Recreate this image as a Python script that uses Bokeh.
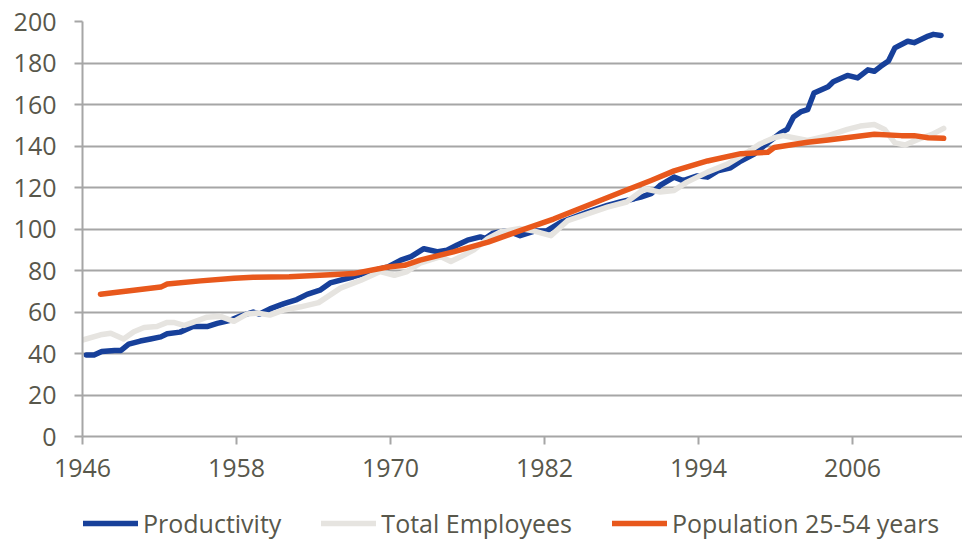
from bokeh.plotting import figure
from bokeh.layouts import column
from bokeh.models import Legend, LegendItem, FixedTicker, Range1d
from bokeh.embed import file_html
from bokeh.resources import INLINE

prod_years = [1946.3, 1946.9, 1947.5, 1948.5, 1949.0, 1949.6, 1950.5, 1951.3, 1952.1, 1952.6,
              1953.6, 1954.6, 1955.7, 1956.5, 1957.5, 1958.3, 1959.3, 1959.8, 1960.6, 1961.7,
              1962.7, 1963.5, 1964.5, 1965.3, 1965.6, 1967.1, 1968.7, 1969.8, 1970.8, 1971.6,
              1972.6, 1973.7, 1974.4, 1975.2, 1976.0, 1977.0, 1977.4, 1978.0, 1979.1, 1980.1,
              1981.2, 1982.2, 1983.3, 1985.3, 1986.9, 1987.9, 1989.0, 1989.5, 1990.3, 1991.0,
              1992.1, 1992.8, 1993.9, 1994.7, 1995.5, 1996.5, 1997.3, 1998.3, 1999.4, 2000.4,
              2000.9, 2001.4, 2002.0, 2002.5, 2003.0, 2004.1, 2004.5, 2005.6, 2006.4, 2007.2,
              2007.7, 2008.2, 2008.8, 2009.3, 2010.3, 2010.8, 2011.9, 2012.3, 2012.9]
productivity = [39.3, 39.3, 41.0, 41.5, 41.5, 44.5, 46.0, 47.0, 48.0, 49.5,
                50.3, 53.0, 53.0, 54.5, 56.0, 58.0, 60.0, 59.0, 61.5, 64.0,
                66.0, 68.5, 70.5, 74.0, 74.5, 77.0, 80.0, 81.7, 85.0, 86.7,
                90.5, 89.0, 89.8, 92.3, 94.6, 96.2, 95.5, 98.0, 99.2, 96.8,
                99.0, 99.2, 103.3, 108.0, 111.4, 113.0, 114.6, 115.4, 117.0, 121.0,
                125.0, 123.3, 125.6, 125.0, 128.0, 129.5, 132.8, 136.0, 141.5, 146.3,
                148.0, 154.0, 156.6, 157.5, 165.5, 168.6, 171.0, 174.0, 172.8, 176.7,
                176.0, 178.4, 181.0, 187.3, 190.5, 189.8, 193.0, 193.8, 193.3]

emp_years = [1946.0, 1947.4, 1948.2, 1949.2, 1950.0, 1950.8, 1951.8, 1952.6, 1953.1, 1953.9,
             1954.6, 1955.7, 1956.7, 1957.8, 1958.8, 1959.6, 1960.6, 1961.7, 1963.0, 1964.4,
             1966.1, 1967.7, 1969.2, 1970.3, 1971.3, 1972.3, 1973.9, 1974.7, 1975.5, 1976.5,
             1977.6, 1978.6, 1980.1, 1981.2, 1982.5, 1983.8, 1985.3, 1986.9, 1988.4, 1989.8,
             1991.0, 1992.1, 1993.1, 1994.7, 1996.3, 1997.8, 1998.8, 1999.9, 2000.6, 2001.4,
             2002.5, 2004.1, 2005.6, 2006.6, 2007.7, 2008.5, 2009.3, 2010.1, 2011.1, 2012.2,
             2013.1]
employees = [46.5, 49.0, 49.8, 47.0, 50.5, 52.5, 53.0, 55.0, 55.0, 53.5,
             55.0, 57.5, 58.0, 55.5, 59.0, 59.5, 58.5, 61.0, 62.5, 64.5,
             71.5, 75.3, 79.5, 77.7, 79.5, 83.5, 86.7, 84.3, 86.7, 90.0,
             95.5, 98.7, 100.2, 99.0, 96.8, 104.0, 107.2, 110.5, 113.0, 119.4,
             117.8, 118.6, 122.6, 127.4, 131.4, 137.0, 141.0, 144.0, 145.0, 144.0,
             142.7, 145.0, 148.0, 149.6, 150.4, 148.0, 141.5, 140.5, 143.2, 145.6,
             148.5]

pop_years = [1947.4, 1950.0, 1952.1, 1952.6, 1955.2, 1957.8, 1959.3, 1962.1, 1965.3, 1967.1,
             1969.8, 1971.1, 1972.3, 1974.9, 1977.6, 1980.1, 1982.7, 1985.3, 1987.9, 1990.3,
             1992.1, 1994.7, 1997.3, 1999.4, 1999.9, 2002.5, 2004.1, 2007.7, 2009.8, 2010.8,
             2011.9, 2013.1]
population = [68.6, 70.5, 72.0, 73.5, 75.0, 76.3, 76.7, 77.0, 78.0, 78.5,
              81.7, 82.5, 85.0, 89.0, 93.7, 99.2, 104.8, 111.2, 117.6, 123.4,
              128.0, 132.8, 136.3, 137.0, 139.3, 141.8, 142.9, 145.7, 145.0, 145.0,
              144.0, 143.7]

x_ticks = [1946, 1958, 1970, 1982, 1994, 2006]
y_ticks = [0, 20, 40, 60, 80, 100, 120, 140, 160, 180, 200]
names = ["Productivity", "Total Employees", "Population 25-54 years"]
colors = ["#17409A", "#E6E4E0", "#E8581C"]
series = [(prod_years, productivity), (emp_years, employees), (pop_years, population)]

FONT = "Open Sans"
TXT = "#58574B"
GRID = "#A6A6A6"
LW = 5.5

p = figure(width=962, height=492, output_backend="svg", toolbar_location=None,
           x_range=Range1d(1946, 2014.57), y_range=Range1d(0, 200),
           min_border_left=82, min_border_right=0, min_border_top=21, min_border_bottom=56)
p.outline_line_color = None
p.background_fill_color = "white"
p.border_fill_color = "white"

p.xgrid.grid_line_color = None
p.ygrid.grid_line_color = GRID
p.ygrid.grid_line_width = 2
p.ygrid.ticker = FixedTicker(ticks=y_ticks)

p.yaxis.ticker = FixedTicker(ticks=y_ticks)
p.xaxis.ticker = FixedTicker(ticks=x_ticks)
for ax in (p.xaxis, p.yaxis):
    ax.axis_line_color = GRID
    ax.axis_line_width = 2
    ax.major_tick_line_color = GRID
    ax.major_tick_line_width = 2
    ax.major_tick_out = 8
    ax.major_tick_in = 0
    ax.minor_tick_line_color = None
    ax.major_label_text_font = FONT
    ax.major_label_text_font_size = "25px"
    ax.major_label_text_color = TXT
p.yaxis.major_label_standoff = 18
p.xaxis.major_label_standoff = 14

for (xs, ys), col in zip(series, colors):
    p.line(xs, ys, line_color=col, line_width=LW, line_cap="round", line_join="round")

# legend strip below the chart (its lines fall outside its own ranges, so only the legend shows)
q = figure(width=962, height=48, output_backend="svg", toolbar_location=None,
           x_axis_location=None, y_axis_location=None,
           x_range=Range1d(0, 1), y_range=Range1d(0, 1),
           min_border_left=0, min_border_right=0, min_border_top=0, min_border_bottom=0)
q.outline_line_color = None
q.grid.grid_line_color = None
q.background_fill_color = "white"
q.border_fill_color = "white"
items = []
for name, col, (xs, ys) in zip(names, colors, series):
    r = q.line(xs, ys, line_color=col, line_width=LW, line_cap="round")
    items.append(LegendItem(label=name, renderers=[r]))
legend = Legend(items=items, orientation="horizontal", location=(1, 0),
                glyph_width=55, glyph_height=20, label_standoff=5, spacing=40,
                padding=0, margin=0, border_line_color=None, background_fill_alpha=0,
                label_text_font=FONT, label_text_font_size="25px", label_text_color=TXT)
q.add_layout(legend)

layout = column(p, q, spacing=0)
open("out.html", "w").write(file_html(layout, INLINE))
